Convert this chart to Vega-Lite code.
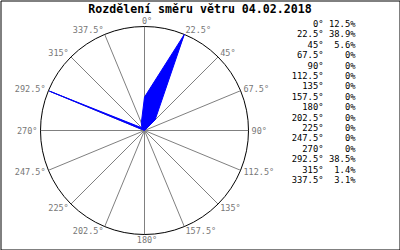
{
  "$schema": "https://vega.github.io/schema/vega-lite/v6.json",
  "width": 399,
  "height": 249,
  "autosize": {"type": "none"},
  "padding": 0.5,
  "background": "white",
  "title": {
    "text": "Rozdělení směru větru 04.02.2018",
    "font": "DejaVu Sans Mono",
    "fontSize": 11.6,
    "fontWeight": "bold",
    "color": "black",
    "anchor": "middle",
    "baseline": "alphabetic",
    "offset": -13,
    "dy": 11
  },
  "config": {
    "view": {"stroke": "black", "strokeWidth": 1},
    "text": {"font": "DejaVu Sans Mono"}
  },
  "data": {
    "values": [
      {"dir": 0, "pct": 12.5},
      {"dir": 22.5, "pct": 38.9},
      {"dir": 45, "pct": 5.6},
      {"dir": 67.5, "pct": 0},
      {"dir": 90, "pct": 0},
      {"dir": 112.5, "pct": 0},
      {"dir": 135, "pct": 0},
      {"dir": 157.5, "pct": 0},
      {"dir": 180, "pct": 0},
      {"dir": 202.5, "pct": 0},
      {"dir": 225, "pct": 0},
      {"dir": 247.5, "pct": 0},
      {"dir": 270, "pct": 0},
      {"dir": 292.5, "pct": 38.5},
      {"dir": 315, "pct": 1.4},
      {"dir": 337.5, "pct": 3.1}
    ]
  },
  "transform": [
    {"joinaggregate": [{"op": "max", "field": "pct", "as": "mx"}]},
    {"calculate": "sin(datum.dir * PI / 180)", "as": "sx"},
    {"calculate": "cos(datum.dir * PI / 180)", "as": "sy"},
    {"calculate": "0 * datum.sx", "as": "cx"},
    {"calculate": "datum.pct / datum.mx * datum.sx", "as": "px"},
    {"calculate": "datum.pct / datum.mx * datum.sy", "as": "py"},
    {"calculate": "datum.sx * 1.03", "as": "lx"},
    {"calculate": "datum.sy * 1.05", "as": "ly"},
    {"calculate": "datum.dir + '°'", "as": "lab"},
    {"calculate": "datum.pct + '%'", "as": "pl"}
  ],
  "layer": [
    {
      "mark": {"type": "rule", "stroke": "#808080", "strokeWidth": 1},
      "encoding": {
        "x": {"field": "cx", "type": "quantitative", "scale": {"domain": [-1, 1], "range": [40, 248], "zero": false, "nice": false}, "axis": null},
        "y": {"field": "cx", "type": "quantitative", "scale": {"domain": [-1, 1], "range": [234, 26], "zero": false, "nice": false}, "axis": null},
        "x2": {"field": "sx"},
        "y2": {"field": "sy"}
      }
    },
    {
      "transform": [{"filter": "datum.dir == 0"}],
      "mark": {"type": "point", "shape": "circle", "filled": false, "size": 43264, "stroke": "black", "strokeWidth": 1, "opacity": 1},
      "encoding": {
        "x": {"field": "cx", "type": "quantitative", "scale": {"domain": [-1, 1], "range": [40, 248], "zero": false, "nice": false}, "axis": null},
        "y": {"field": "cx", "type": "quantitative", "scale": {"domain": [-1, 1], "range": [234, 26], "zero": false, "nice": false}, "axis": null}
      }
    },
    {
      "mark": {"type": "line", "interpolate": "linear-closed", "stroke": "#0000ff", "fill": "#0000ff", "strokeWidth": 1},
      "encoding": {
        "x": {"field": "px", "type": "quantitative", "scale": {"domain": [-1, 1], "range": [40, 248], "zero": false, "nice": false}, "axis": null},
        "y": {"field": "py", "type": "quantitative", "scale": {"domain": [-1, 1], "range": [234, 26], "zero": false, "nice": false}, "axis": null},
        "order": {"field": "dir", "type": "quantitative"}
      }
    },
    {
      "transform": [{"filter": "datum.dir > 0 && datum.dir < 180"}],
      "mark": {"type": "text", "align": "left", "baseline": "middle", "fontSize": 8.5, "color": "#777777"},
      "encoding": {
        "x": {"field": "lx", "type": "quantitative", "scale": {"domain": [-1, 1], "range": [40, 248], "zero": false, "nice": false}, "axis": null},
        "y": {"field": "ly", "type": "quantitative", "scale": {"domain": [-1, 1], "range": [234, 26], "zero": false, "nice": false}, "axis": null},
        "text": {"field": "lab", "type": "nominal"}
      }
    },
    {
      "transform": [{"filter": "datum.dir > 180"}],
      "mark": {"type": "text", "align": "right", "baseline": "middle", "fontSize": 8.5, "color": "#777777"},
      "encoding": {
        "x": {"field": "lx", "type": "quantitative", "scale": {"domain": [-1, 1], "range": [40, 248], "zero": false, "nice": false}, "axis": null},
        "y": {"field": "ly", "type": "quantitative", "scale": {"domain": [-1, 1], "range": [234, 26], "zero": false, "nice": false}, "axis": null},
        "text": {"field": "lab", "type": "nominal"}
      }
    },
    {
      "transform": [{"filter": "datum.dir == 0 || datum.dir == 180"}],
      "mark": {"type": "text", "align": "center", "baseline": "middle", "fontSize": 8.5, "color": "#777777", "dx": 2.5},
      "encoding": {
        "x": {"field": "lx", "type": "quantitative", "scale": {"domain": [-1, 1], "range": [40, 248], "zero": false, "nice": false}, "axis": null},
        "y": {"field": "ly", "type": "quantitative", "scale": {"domain": [-1, 1], "range": [234, 26], "zero": false, "nice": false}, "axis": null},
        "text": {"field": "lab", "type": "nominal"}
      }
    },
    {
      "transform": [{"fold": ["lab", "pl"], "as": ["col", "txt"]}],
      "mark": {"type": "text", "align": "right", "baseline": "middle", "fontSize": 8.8, "color": "black"},
      "encoding": {
        "x": {"field": "col", "type": "nominal", "scale": {"type": "point", "domain": ["lab", "pl"], "range": [323, 355], "padding": 0}, "axis": null},
        "y": {"field": "dir", "type": "ordinal", "sort": null, "scale": {"type": "point", "range": [23.5, 179.5], "padding": 0}, "axis": null},
        "text": {"field": "txt", "type": "nominal"}
      }
    }
  ],
  "resolve": {"scale": {"x": "independent", "y": "independent"}}
}
